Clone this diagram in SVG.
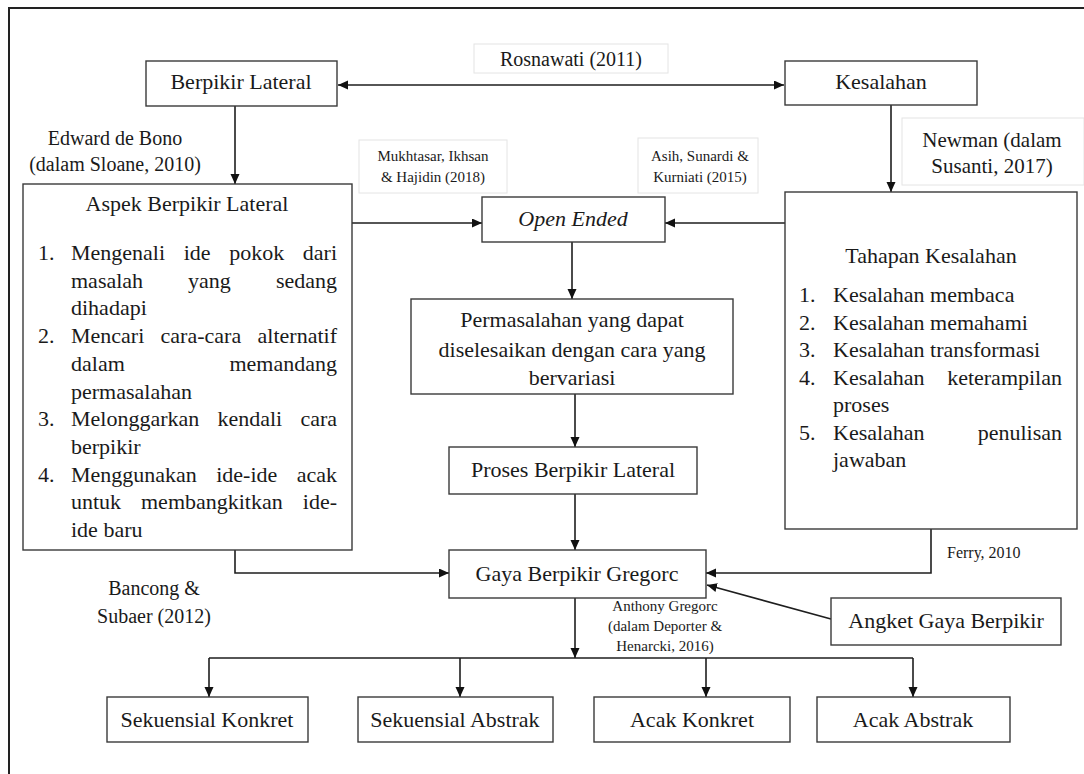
<svg xmlns="http://www.w3.org/2000/svg" width="1084" height="774" viewBox="0 0 1084 774" font-family="'Liberation Serif', Tinos, 'Times New Roman', 'DejaVu Serif', serif">
<style>
text{font-family:'Liberation Serif', Tinos, 'Times New Roman', 'DejaVu Serif', serif;fill:#1a1a1a}
.t{font-size:22px}
.c{text-anchor:middle}
.lbl{font-size:20px}
.sm{font-size:15px}
.box{fill:#fff;stroke:#3a3a3a;stroke-width:1.4}
.faint{fill:#fff;stroke:#e4e4e4;stroke-width:1}
.con{fill:none;stroke:#1e1e1e;stroke-width:1.6}
</style>
<defs>
<marker id="ah" markerUnits="userSpaceOnUse" markerWidth="11" markerHeight="10" refX="10" refY="4.5" orient="auto-start-reverse"><path d="M0,0 L10,4.5 L0,9 z" fill="#111"/></marker>
</defs>
<rect width="1084" height="774" fill="#fff"/>
<g id="frame"><path d="M9,774 V8 H1084" fill="none" stroke="#222" stroke-width="2"/></g>

<g id="labels">
<rect class="faint" x="474" y="44" width="194" height="29"/>
<text class="lbl c" x="571" y="66">Rosnawati (2011)</text>
<text class="lbl c" x="115" y="145">Edward de Bono</text>
<text class="lbl c" x="115" y="171">(dalam Sloane, 2010)</text>
<rect class="faint" x="359" y="140" width="148" height="53"/>
<text class="sm c" x="433" y="161">Mukhtasar, Ikhsan</text>
<text class="sm c" x="433" y="182">&amp; Hajidin (2018)</text>
<rect class="faint" x="638" y="138" width="120" height="55"/>
<text class="sm c" x="700" y="161">Asih, Sunardi &amp;</text>
<text class="sm c" x="700" y="182">Kurniati (2015)</text>
<rect class="faint" x="902" y="118" width="182" height="67"/>
<text class="c" style="font-size:21px" x="992" y="147">Newman (dalam</text>
<text class="c" style="font-size:21px" x="992" y="173">Susanti, 2017)</text>
<text class="lbl c" x="154" y="595">Bancong &amp;</text>
<text class="lbl c" x="154" y="623">Subaer (2012)</text>
<text style="font-size:16px" x="947" y="558">Ferry, 2010</text>
<text class="sm c" x="665" y="611">Anthony Gregorc</text>
<text class="sm c" x="665" y="631">(dalam Deporter &amp;</text>
<text class="sm c" x="665" y="651">Henarcki, 2016)</text>
</g>

<g id="connectors">
<line class="con" x1="338" y1="85" x2="784" y2="85" marker-start="url(#ah)" marker-end="url(#ah)"/>
<line class="con" x1="235" y1="106" x2="235" y2="184" marker-end="url(#ah)"/>
<line class="con" x1="891" y1="105" x2="891" y2="192" marker-end="url(#ah)"/>
<line class="con" x1="352" y1="223" x2="482" y2="223" marker-end="url(#ah)"/>
<line class="con" x1="785" y1="223" x2="665" y2="223" marker-end="url(#ah)"/>
<line class="con" x1="572" y1="242" x2="572" y2="299" marker-end="url(#ah)"/>
<line class="con" x1="575" y1="394" x2="575" y2="447" marker-end="url(#ah)"/>
<line class="con" x1="575" y1="494" x2="575" y2="550" marker-end="url(#ah)"/>
<polyline class="con" points="235,550 235,573 449,573" marker-end="url(#ah)"/>
<polyline class="con" points="931,529 931,573 706,573" marker-end="url(#ah)"/>
<line class="con" x1="831" y1="619" x2="707" y2="585" marker-end="url(#ah)"/>
<line class="con" x1="575" y1="598" x2="575" y2="658" marker-end="url(#ah)"/>
<line class="con" x1="209" y1="658" x2="913" y2="658"/>
<line class="con" x1="209" y1="658" x2="209" y2="697" marker-end="url(#ah)"/>
<line class="con" x1="460" y1="658" x2="460" y2="697" marker-end="url(#ah)"/>
<line class="con" x1="706" y1="658" x2="706" y2="697" marker-end="url(#ah)"/>
<line class="con" x1="913" y1="658" x2="913" y2="697" marker-end="url(#ah)"/>
</g>

<g id="berpikir-lateral">
<rect class="box" x="146" y="61" width="191" height="45"/>
<text class="t c" x="241" y="89">Berpikir Lateral</text>
</g>
<g id="kesalahan">
<rect class="box" x="785" y="61" width="192" height="44"/>
<text class="t c" x="881" y="89">Kesalahan</text>
</g>
<g id="aspek">
<rect class="box" x="23" y="184" width="329" height="366"/>
<text class="t c" x="187" y="211">Aspek Berpikir Lateral</text>
<g class="t">
<text x="38" y="260">1.</text>
<text y="260"><tspan x="71">Mengenali</tspan><tspan x="183.7">ide</tspan><tspan x="229.2">pokok</tspan><tspan x="337" text-anchor="end">dari</tspan></text>
<text y="287.7"><tspan x="71">masalah</tspan><tspan x="188.1">yang</tspan><tspan x="337" text-anchor="end">sedang</tspan></text>
<text x="71" y="315.4">dihadapi</text>
<text x="38" y="343">2.</text>
<text y="343"><tspan x="71">Mencari</tspan><tspan x="160.6">cara-cara</tspan><tspan x="337" text-anchor="end">alternatif</tspan></text>
<text y="370.8"><tspan x="71">dalam</tspan><tspan x="337" text-anchor="end">memandang</tspan></text>
<text x="71" y="398.5">permasalahan</text>
<text x="38" y="426.2">3.</text>
<text y="426.2"><tspan x="71">Melonggarkan</tspan><tspan x="217.4">kendali</tspan><tspan x="337" text-anchor="end">cara</tspan></text>
<text x="71" y="454">berpikir</text>
<text x="38" y="481.6">4.</text>
<text y="481.6"><tspan x="71">Menggunakan</tspan><tspan x="216.2">ide-ide</tspan><tspan x="337" text-anchor="end">acak</tspan></text>
<text y="509.3"><tspan x="71">untuk</tspan><tspan x="141">membangkitkan</tspan><tspan x="337" text-anchor="end">ide-</tspan></text>
<text x="71" y="537">ide baru</text>
</g>
</g>
<g id="tahapan">
<rect class="box" x="785" y="192" width="292" height="337"/>
<text class="t c" x="931" y="263">Tahapan Kesalahan</text>
<g class="t">
<text x="799" y="302">1.</text><text x="833" y="302">Kesalahan membaca</text>
<text x="799" y="329.5">2.</text><text x="833" y="329.5">Kesalahan memahami</text>
<text x="799" y="357">3.</text><text x="833" y="357">Kesalahan transformasi</text>
<text x="799" y="384.5">4.</text><text y="384.5"><tspan x="833">Kesalahan</tspan><tspan x="1062" text-anchor="end">keterampilan</tspan></text>
<text x="833" y="412">proses</text>
<text x="799" y="439.5">5.</text><text y="439.5"><tspan x="833">Kesalahan</tspan><tspan x="1062" text-anchor="end">penulisan</tspan></text>
<text x="833" y="467">jawaban</text>
</g>
</g>
<g id="open-ended">
<rect class="box" x="482" y="197" width="183" height="45"/>
<text class="t c" style="font-style:italic" x="573" y="226">Open Ended</text>
</g>
<g id="permasalahan">
<rect class="box" x="411" y="299" width="322" height="95"/>
<text class="t c" x="572" y="327">Permasalahan yang dapat</text>
<text class="t c" x="572" y="357">diselesaikan dengan cara yang</text>
<text class="t c" x="572" y="385">bervariasi</text>
</g>
<g id="proses">
<rect class="box" x="449" y="447" width="248" height="47"/>
<text class="t c" x="573" y="477">Proses Berpikir Lateral</text>
</g>
<g id="gaya">
<rect class="box" x="449" y="550" width="257" height="48"/>
<text class="t c" x="577" y="581">Gaya Berpikir Gregorc</text>
</g>
<g id="angket">
<rect class="box" x="831" y="598" width="230" height="47"/>
<text class="t c" x="946" y="628">Angket Gaya Berpikir</text>
</g>
<g id="sekuensial-konkret">
<rect class="box" x="107" y="697" width="201" height="45"/>
<text class="t c" x="207" y="727">Sekuensial Konkret</text>
</g>
<g id="sekuensial-abstrak">
<rect class="box" x="358" y="697" width="195" height="45"/>
<text class="t c" x="455" y="727">Sekuensial Abstrak</text>
</g>
<g id="acak-konkret">
<rect class="box" x="594" y="697" width="196" height="45"/>
<text class="t c" x="692" y="727">Acak Konkret</text>
</g>
<g id="acak-abstrak">
<rect class="box" x="817" y="697" width="193" height="45"/>
<text class="t c" x="913" y="727">Acak Abstrak</text>
</g>
</svg>
